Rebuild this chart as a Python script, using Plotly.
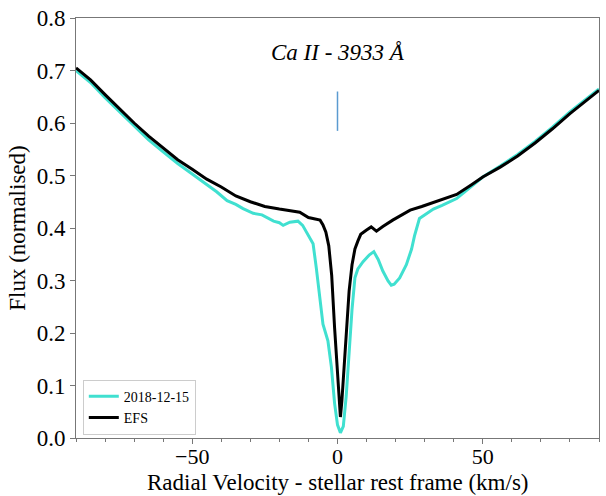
import plotly.graph_objects as go

efs_x = [-90, -85, -80, -75, -70, -65, -60, -55, -50, -45, -40, -35, -30, -25, -20, -17, -13, -10, -8, -6, -5, -4, -3, -2, -1, 0, 0.5, 1, 1.5, 2, 3, 4, 5, 6, 7, 8, 10, 11.6, 13.4, 15.6, 19, 22, 25, 29, 35, 41, 46, 50, 56, 62, 68, 74, 80, 85, 90]
efs_y = [0.705, 0.682, 0.654, 0.627, 0.600, 0.575, 0.552, 0.530, 0.512, 0.493, 0.478, 0.461, 0.450, 0.441, 0.436, 0.434, 0.430, 0.420, 0.417, 0.415, 0.406, 0.392, 0.366, 0.310, 0.210, 0.125, 0.075, 0.040, 0.070, 0.115, 0.205, 0.280, 0.330, 0.360, 0.375, 0.388, 0.396, 0.402, 0.394, 0.403, 0.415, 0.425, 0.434, 0.441, 0.453, 0.464, 0.482, 0.497, 0.516, 0.537, 0.562, 0.589, 0.618, 0.640, 0.662]

obs_x = [-90, -85, -80, -75, -70, -65, -60, -55, -50, -47, -44, -41.6, -38, -35, -32.5, -29, -26, -24.4, -22, -20, -18.7, -16.4, -13.6, -12, -10.7, -8.4, -7.3, -6.1, -5, -3.3, -2.1, -1, 0, 1, 2, 3, 4, 5, 6, 7, 8.8, 11, 12.5, 14, 15.6, 17.4, 18.5, 19.5, 21.4, 23.7, 25.5, 26.5, 28.2, 30.5, 33, 36, 41, 44, 47, 50, 56, 62, 68, 74, 80, 85, 90]
obs_y = [0.700, 0.677, 0.648, 0.621, 0.594, 0.568, 0.545, 0.523, 0.503, 0.491, 0.480, 0.469, 0.452, 0.445, 0.437, 0.428, 0.425, 0.420, 0.413, 0.410, 0.405, 0.411, 0.413, 0.405, 0.392, 0.370, 0.324, 0.261, 0.217, 0.185, 0.135, 0.066, 0.025, 0.010, 0.022, 0.080, 0.165, 0.245, 0.305, 0.322, 0.336, 0.349, 0.355, 0.340, 0.318, 0.299, 0.291, 0.293, 0.305, 0.330, 0.360, 0.385, 0.418, 0.426, 0.436, 0.443, 0.456, 0.470, 0.484, 0.497, 0.518, 0.540, 0.565, 0.592, 0.621, 0.643, 0.665]

marker_x = [0, 0]
marker_y = [0.585, 0.66]

title_text = "Ca II - 3933 Å"
x_title = "Radial Velocity - stellar rest frame (km/s)"
y_title = "Flux (normalised)"
x_ticks = [-50, 0, 50]
y_ticks = [0.0, 0.1, 0.2, 0.3, 0.4, 0.5, 0.6, 0.7, 0.8]

FONT = "Liberation Serif"

fig = go.Figure()
fig.add_trace(go.Scatter(x=obs_x, y=obs_y, mode="lines", name="2018-12-15",
                         line=dict(color="#40e0d0", width=3)))
fig.add_trace(go.Scatter(x=efs_x, y=efs_y, mode="lines", name="EFS",
                         line=dict(color="black", width=3)))
fig.add_trace(go.Scatter(x=marker_x, y=marker_y, mode="lines", showlegend=False,
                         line=dict(color="#5b9bd0", width=1.5)))

fig.add_annotation(x=0, y=0.735, xref="x", yref="y", text="<i>" + title_text + "</i>",
                   showarrow=False, font=dict(family=FONT, size=23, color="black"))

# x-axis title placed as an annotation just below the tick labels
fig.add_annotation(x=0.5, y=-0.105, xref="paper", yref="paper", text=x_title,
                   showarrow=False, xanchor="center", yanchor="middle",
                   font=dict(family=FONT, size=23, color="black"))

fig.update_layout(
    width=606, height=496,
    margin=dict(l=76, r=6, t=15, b=58),
    paper_bgcolor="white", plot_bgcolor="white",
    font=dict(family=FONT, color="black"),
    legend=dict(x=0.013, y=0.008, xanchor="left", yanchor="bottom",
                bgcolor="rgba(255,255,255,0.9)", bordercolor="#cccccc", borderwidth=1,
                font=dict(family=FONT, size=14), tracegroupgap=0),
)
fig.update_xaxes(range=[-90, 90], tickvals=x_ticks, showgrid=False, zeroline=False,
                 showline=True, mirror=True, linecolor="#777777", linewidth=1,
                 ticks="outside", ticklen=5, tickcolor="#777777",
                 ticklabelstandoff=-6,
                 minor=dict(dtick=10, ticks="outside", ticklen=3, tickcolor="#777777"),
                 tickfont=dict(family=FONT, size=22))
fig.update_yaxes(range=[0, 0.8], tickvals=y_ticks, tickformat=".1f", showgrid=False, zeroline=False,
                 showline=True, mirror=True, linecolor="#777777", linewidth=1,
                 ticks="outside", ticklen=5, tickcolor="#777777",
                 tickfont=dict(family=FONT, size=23),
                 title=dict(text=y_title, font=dict(family=FONT, size=23), standoff=4))

fig.write_html("out.html")
